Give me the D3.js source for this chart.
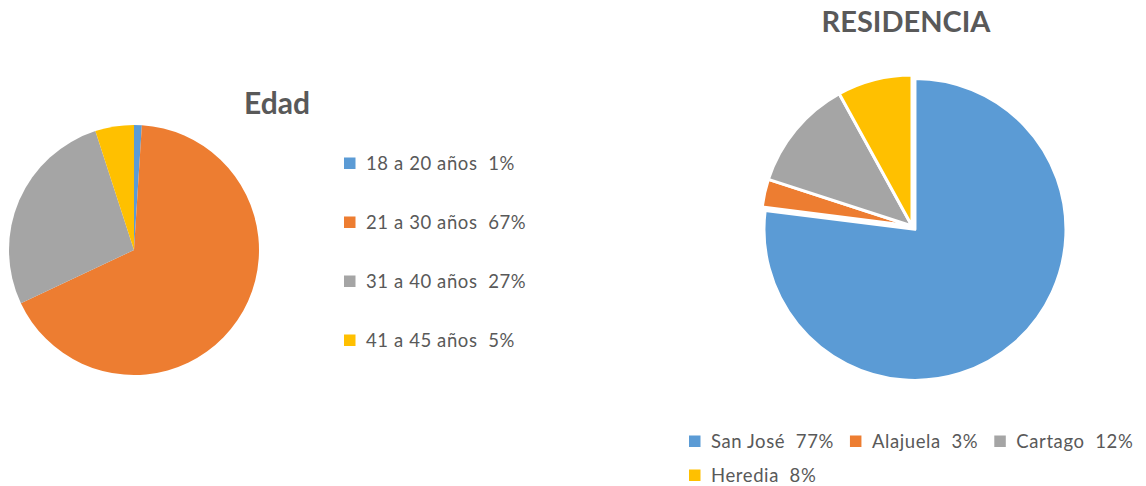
<!DOCTYPE html>
<html>
<head>
<meta charset="utf-8">
<script src="https://cdn.jsdelivr.net/npm/d3@7"></script>
<style>
  body { margin: 0; background: #fff; }
  text { font-family: Lato, "Open Sans", sans-serif; fill: #595959; }
</style>
</head>
<body>
<svg width="1146" height="486"></svg>
<script>
// Data
var edadLabels = ["18 a 20 años", "21 a 30 años", "31 a 40 años", "41 a 45 años"];
var edadValues = [1, 67, 27, 5];
var resLabels = ["San José", "Alajuela", "Cartago", "Heredia"];
var resValues = [77, 3, 12, 8];
var colors = ["#5B9BD5", "#ED7D31", "#A5A5A5", "#FFC000"];

var svg = d3.select("svg");
var color = d3.scaleOrdinal().domain([0, 1, 2, 3]).range(colors);
var pie = d3.pie().sort(null).value(function(d) { return d; });

// legend label: name + two spaces + percent
function legendText(sel, txt) {
  sel.append("text")
    .attr("x", 22).attr("y", 7)
    .attr("font-size", "18.5px")
    .attr("letter-spacing", "0.6px")
    .attr("xml:space", "preserve")
    .text(txt);
}

// ---- Edad ----
var edadArc = d3.arc().innerRadius(0).outerRadius(125);
var g1 = svg.append("g").attr("transform", "translate(134,250)");
g1.selectAll("path")
  .data(pie(edadValues))
  .enter().append("path")
  .attr("d", edadArc)
  .attr("fill", function(d, i) { return color(i); });

svg.append("text")
  .attr("x", 277).attr("y", 114)
  .attr("text-anchor", "middle")
  .attr("font-size", "30px")
  .attr("font-weight", "bold")
  .text("Edad");

var leg1 = svg.append("g").selectAll("g")
  .data(edadLabels)
  .enter().append("g")
  .attr("transform", function(d, i) { return "translate(344," + (163 + i * 59) + ")"; });
leg1.append("rect")
  .attr("x", 0).attr("y", -5.5).attr("width", 11.5).attr("height", 11.5)
  .attr("fill", function(d, i) { return color(i); });
leg1.each(function(d, i) { legendText(d3.select(this), d + "  " + edadValues[i] + "%"); });

// ---- Residencia ----
var r = 151;
var resArc = d3.arc().innerRadius(0).outerRadius(r);
var g2 = svg.append("g").attr("transform", "translate(912,226)");
g2.selectAll("path")
  .data(pie(resValues))
  .enter().append("path")
  .attr("d", resArc)
  .attr("transform", function(d, i) {
    if (i !== 0) return null;
    var a = (d.startAngle + d.endAngle) / 2, off = 4.5;
    return "translate(" + (Math.sin(a) * off) + "," + (-Math.cos(a) * off) + ")";
  })
  .attr("fill", function(d, i) { return color(i); })
  .attr("stroke", "#fff")
  .attr("stroke-width", 3)
  .attr("stroke-linejoin", "round");

svg.append("text")
  .attr("x", 906).attr("y", 32)
  .attr("text-anchor", "middle")
  .attr("font-size", "29px")
  .attr("font-weight", "bold")
  .text("RESIDENCIA");

// bottom legend, flowed in rows
var lx = 689, ly = 441, maxX = 1146;
resLabels.forEach(function(lab, i) {
  var item = svg.append("g");
  legendText(item, lab + "  " + resValues[i] + "%");
  var w = 22 + item.select("text").node().getComputedTextLength();
  if (lx + w > maxX) { lx = 689; ly += 34; }
  item.append("rect")
    .attr("x", 0).attr("y", -5.5).attr("width", 11.5).attr("height", 11.5)
    .attr("fill", color(i));
  item.attr("transform", "translate(" + lx + "," + ly + ")");
  lx += w + 16;
});
</script>
</body>
</html>
